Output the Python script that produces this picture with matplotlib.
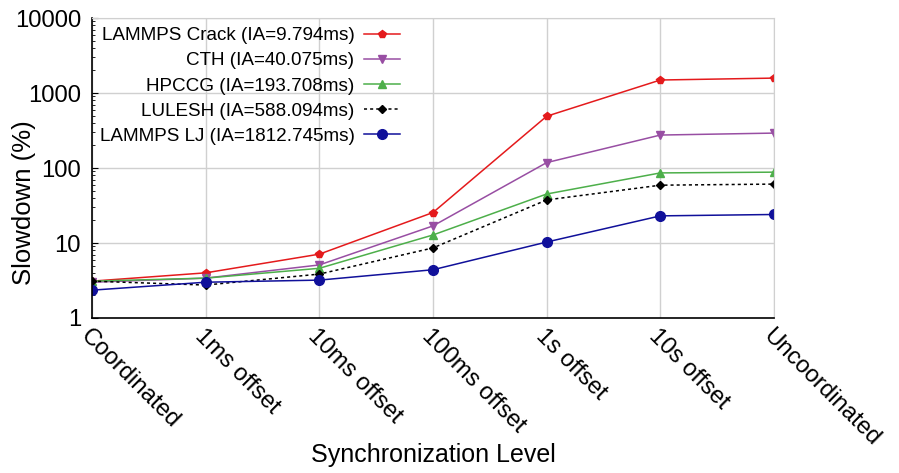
import numpy as np
import matplotlib
matplotlib.use('Agg')
from matplotlib import pyplot as plt
from matplotlib.ticker import LogLocator, FixedLocator

plt.rcParams['font.family'] = ['Liberation Sans', 'DejaVu Sans']

# Data
levels = ['Coordinated', '1ms offset', '10ms offset', '100ms offset',
          '1s offset', '10s offset', 'Uncoordinated']

crack = [3.1, 4.0, 7.1, 25.5, 490, 1490, 1580]
cth = [3.0, 3.4, 5.1, 16.9, 118, 275, 292]
hpccg = [3.1, 3.4, 4.6, 12.8, 45, 86, 88]
lulesh = [3.1, 2.75, 3.85, 8.6, 37.5, 59, 61]
lj = [2.35, 3.0, 3.2, 4.4, 10.3, 23, 24]

labels = ['LAMMPS Crack (IA=9.794ms)', 'CTH (IA=40.075ms)', 'HPCCG (IA=193.708ms)',
          'LULESH (IA=588.094ms)', 'LAMMPS LJ (IA=1812.745ms)']

x = np.arange(len(levels))

fig = plt.figure(figsize=(8.99, 4.73), dpi=100)
ax = fig.add_axes([92/899, 1-318/473, (774-92)/899, 300/473])

ax.plot(x, crack, color='#e41a1c', marker='p', markersize=6, lw=1.1, label=labels[0])
ax.plot(x, cth, color='#984ea3', marker='v', markersize=6, lw=1.1, label=labels[1])
ax.plot(x, hpccg, color='#4daf4a', marker='^', markersize=6, lw=1.1, label=labels[2])
ax.plot(x, lulesh, color='black', marker='D', markersize=4, lw=1.1, ls=(0, (2, 2)), label=labels[3])
ax.plot(x, lj, color='#10109a', marker='o', markersize=7, lw=1.1, label=labels[4])

ax.set_yscale('log')
ax.set_ylim(1, 10000)
ax.set_xlim(0, len(levels)-1)
ax.yaxis.set_major_locator(FixedLocator([1, 10, 100, 1000, 10000]))
ax.set_yticklabels(['1', '10', '100', '1000', '10000'])
ax.yaxis.set_minor_locator(LogLocator(base=10, subs=np.arange(2, 10)))
ax.yaxis.set_minor_formatter(plt.NullFormatter())
ax.tick_params(axis='y', which='major', direction='in', length=4, labelsize=17.2, pad=8)
ax.tick_params(axis='y', which='minor', direction='in', length=2)
ax.set_xticks(x)
ax.set_xticklabels(levels, rotation=-45, ha='left', va='top', rotation_mode='anchor', fontsize=17.2)
ax.tick_params(axis='x', length=0, pad=5)

ax.grid(True, which='major', color='#d0d0d0', lw=1)
for s in ['top', 'right']:
    ax.spines[s].set_color('#d0d0d0')
for s in ['left', 'bottom']:
    ax.spines[s].set_color('black')
    ax.spines[s].set_linewidth(1.2)

ax.set_ylabel('Slowdown (%)', fontsize=18.5, va='center')
ax.yaxis.set_label_coords(-0.1, 0.383)
ax.set_xlabel('Synchronization Level', fontsize=18, va='center')
ax.xaxis.set_label_coords(0.5, -0.457)

ax.legend(loc='upper left', frameon=False, markerfirst=False, fontsize=13.6,
          handlelength=1.9, handletextpad=0.5, labelspacing=0.42,
          borderaxespad=0.0, bbox_to_anchor=(0.0, 0.995))

fig.savefig('out.png', dpi=100)
